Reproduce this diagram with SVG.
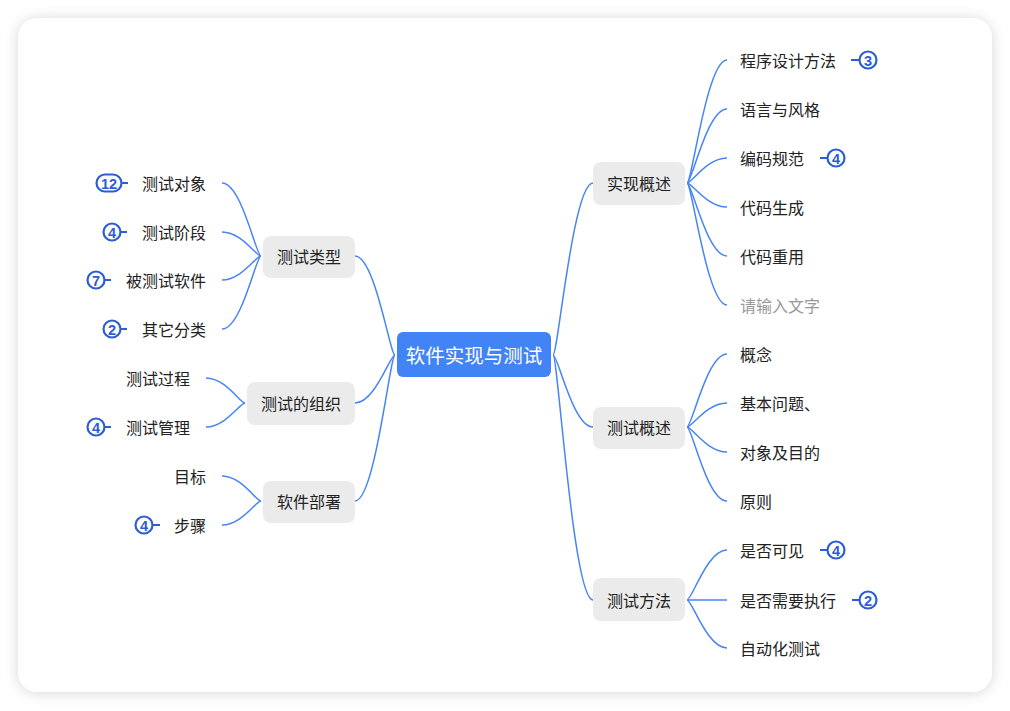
<svg xmlns="http://www.w3.org/2000/svg" width="1010" height="711" viewBox="0 0 1010 711">
<defs>
<filter id="sh" x="-10%" y="-10%" width="120%" height="120%">
<feDropShadow dx="0" dy="1" stdDeviation="7" flood-color="#000" flood-opacity="0.16"/>
</filter>
<style>
text{font-family:"Noto Sans CJK SC","Noto Sans",sans-serif;dominant-baseline:central}
.node rect{fill:#ebebeb}
.nt{font-size:16px;fill:#222;text-anchor:middle}
.leaf{font-size:16px;fill:#222}
.ph{fill:#999}
.l{text-anchor:end}
.conn path{fill:none;stroke:#4785f5;stroke-width:1.5}
.badge circle,.badge rect{fill:#fff;stroke:#2c5cd6;stroke-width:2.2}
.badge line{stroke:#2c5cd6;stroke-width:2}
.badge text{font-family:"Liberation Sans","Noto Sans",sans-serif;font-weight:bold;font-size:14.5px;fill:#2c5cd6;text-anchor:middle}
</style>
</defs>
<rect x="0" y="0" width="1010" height="711" fill="#ffffff"/>
<rect x="18" y="18" width="974" height="674" rx="20" fill="#ffffff" filter="url(#sh)"/>

<g id="connectors" class="conn">
<path d="M553 355 C558 355 573 183 593 183"/>
<path d="M553 355 C558 355 573 427 593 427"/>
<path d="M553 355 C558 355 573 600 593 600"/>
<path d="M395 355 C390 355 375 256 355 256"/>
<path d="M395 355 C390 355 375 403 355 403"/>
<path d="M395 355 C390 355 375 501 355 501"/>
<path d="M687 183 C692 183 707 60 727 60"/>
<path d="M687 183 C692 183 707 109 727 109"/>
<path d="M687 183 C692 183 707 158 727 158"/>
<path d="M687 183 C692 183 707 207 727 207"/>
<path d="M687 183 C692 183 707 256 727 256"/>
<path d="M687 183 C692 183 707 305 727 305"/>
<path d="M687 427 C692 427 707 354 727 354"/>
<path d="M687 427 C692 427 707 403 727 403"/>
<path d="M687 427 C692 427 707 452 727 452"/>
<path d="M687 427 C692 427 707 501 727 501"/>
<path d="M687 600 C692 600 707 550 727 550"/>
<path d="M687 600 L727 600"/>
<path d="M687 600 C692 600 707 648 727 648"/>
<path d="M261 256 C256 256 241.5 183 222 183"/>
<path d="M261 256 C256 256 241.5 232 222 232"/>
<path d="M261 256 C256 256 241.5 280 222 280"/>
<path d="M261 256 C256 256 241.5 329 222 329"/>
<path d="M245 403 C240 403 225.5 378 206 378"/>
<path d="M245 403 C240 403 225.5 427 206 427"/>
<path d="M261 501 C256 501 241.5 476 222 476"/>
<path d="M261 501 C256 501 241.5 525 222 525"/>
</g>

<g id="root">
<rect x="397" y="332" width="154" height="45" rx="6" fill="#4283f5"/>
<text x="474" y="354" style="font-size:19.5px;fill:#fff;text-anchor:middle">软件实现与测试</text>
</g>

<g id="n-shixian" class="node"><rect x="593" y="162" width="92" height="43" rx="8"/><text class="nt" x="639" y="182.5">实现概述</text></g>
<g id="n-ceshigaishu" class="node"><rect x="593" y="407" width="92" height="42" rx="8"/><text class="nt" x="639" y="426.5">测试概述</text></g>
<g id="n-ceshifangfa" class="node"><rect x="593" y="578" width="92" height="43" rx="8"/><text class="nt" x="639" y="599.5">测试方法</text></g>
<g id="n-ceshileixing" class="node"><rect x="263" y="236" width="92" height="42" rx="8"/><text class="nt" x="309" y="256">测试类型</text></g>
<g id="n-zuzhi" class="node"><rect x="247" y="382" width="108" height="43" rx="8"/><text class="nt" x="301" y="403">测试的组织</text></g>
<g id="n-bushu" class="node"><rect x="263" y="481" width="92" height="42" rx="8"/><text class="nt" x="309" y="501">软件部署</text></g>

<g id="leaf-r1"><text class="leaf" x="740" y="59.5">程序设计方法</text></g>
<g id="leaf-r2"><text class="leaf" x="740" y="108.5">语言与风格</text></g>
<g id="leaf-r3"><text class="leaf" x="740" y="157.5">编码规范</text></g>
<g id="leaf-r4"><text class="leaf" x="740" y="206.5">代码生成</text></g>
<g id="leaf-r5"><text class="leaf" x="740" y="255.5">代码重用</text></g>
<g id="leaf-r6"><text class="leaf ph" x="740" y="304.5">请输入文字</text></g>
<g id="leaf-r7"><text class="leaf" x="740" y="353.5">概念</text></g>
<g id="leaf-r8"><text class="leaf" x="740" y="402.5">基本问题、</text></g>
<g id="leaf-r9"><text class="leaf" x="740" y="451.5">对象及目的</text></g>
<g id="leaf-r10"><text class="leaf" x="740" y="500.5">原则</text></g>
<g id="leaf-r11"><text class="leaf" x="740" y="549.5">是否可见</text></g>
<g id="leaf-r12"><text class="leaf" x="740" y="599.5">是否需要执行</text></g>
<g id="leaf-r13"><text class="leaf" x="740" y="647.5">自动化测试</text></g>

<g id="leaf-l1"><text class="leaf l" x="206" y="182.5">测试对象</text></g>
<g id="leaf-l2"><text class="leaf l" x="206" y="231.5">测试阶段</text></g>
<g id="leaf-l3"><text class="leaf l" x="206" y="279.5">被测试软件</text></g>
<g id="leaf-l4"><text class="leaf l" x="206" y="328.5">其它分类</text></g>
<g id="leaf-l5"><text class="leaf l" x="190" y="377.5">测试过程</text></g>
<g id="leaf-l6"><text class="leaf l" x="190" y="426.5">测试管理</text></g>
<g id="leaf-l7"><text class="leaf l" x="206" y="475.5">目标</text></g>
<g id="leaf-l8"><text class="leaf l" x="206" y="524.5">步骤</text></g>

<g id="badge-r1" class="badge"><line x1="851" y1="60" x2="859" y2="60"/><circle cx="868" cy="60" r="8.5"/><text x="868" y="60.5">3</text></g>
<g id="badge-r3" class="badge"><line x1="820" y1="158" x2="827" y2="158"/><circle cx="836" cy="158" r="8.5"/><text x="836" y="158.5">4</text></g>
<g id="badge-r11" class="badge"><line x1="820" y1="550" x2="827" y2="550"/><circle cx="836" cy="550" r="8.5"/><text x="836" y="550.5">4</text></g>
<g id="badge-r12" class="badge"><line x1="852" y1="600" x2="859" y2="600"/><circle cx="868" cy="600" r="8.5"/><text x="868" y="600.5">2</text></g>
<g id="badge-l1" class="badge"><line x1="121" y1="183" x2="128" y2="183"/><rect x="96.5" y="174.5" width="25" height="17" rx="8.5"/><text x="109" y="183.5">12</text></g>
<g id="badge-l2" class="badge"><line x1="120" y1="232" x2="127" y2="232"/><circle cx="112" cy="232" r="8.5"/><text x="112" y="232.5">4</text></g>
<g id="badge-l3" class="badge"><line x1="104" y1="280" x2="111" y2="280"/><circle cx="96" cy="280" r="8.5"/><text x="96" y="280.5">7</text></g>
<g id="badge-l4" class="badge"><line x1="120" y1="329" x2="127" y2="329"/><circle cx="112" cy="329" r="8.5"/><text x="112" y="329.5">2</text></g>
<g id="badge-l6" class="badge"><line x1="104" y1="427" x2="111" y2="427"/><circle cx="96" cy="427" r="8.5"/><text x="96" y="427.5">4</text></g>
<g id="badge-l8" class="badge"><line x1="152" y1="525" x2="160" y2="525"/><circle cx="144" cy="525" r="8.5"/><text x="144" y="525.5">4</text></g>
</svg>
